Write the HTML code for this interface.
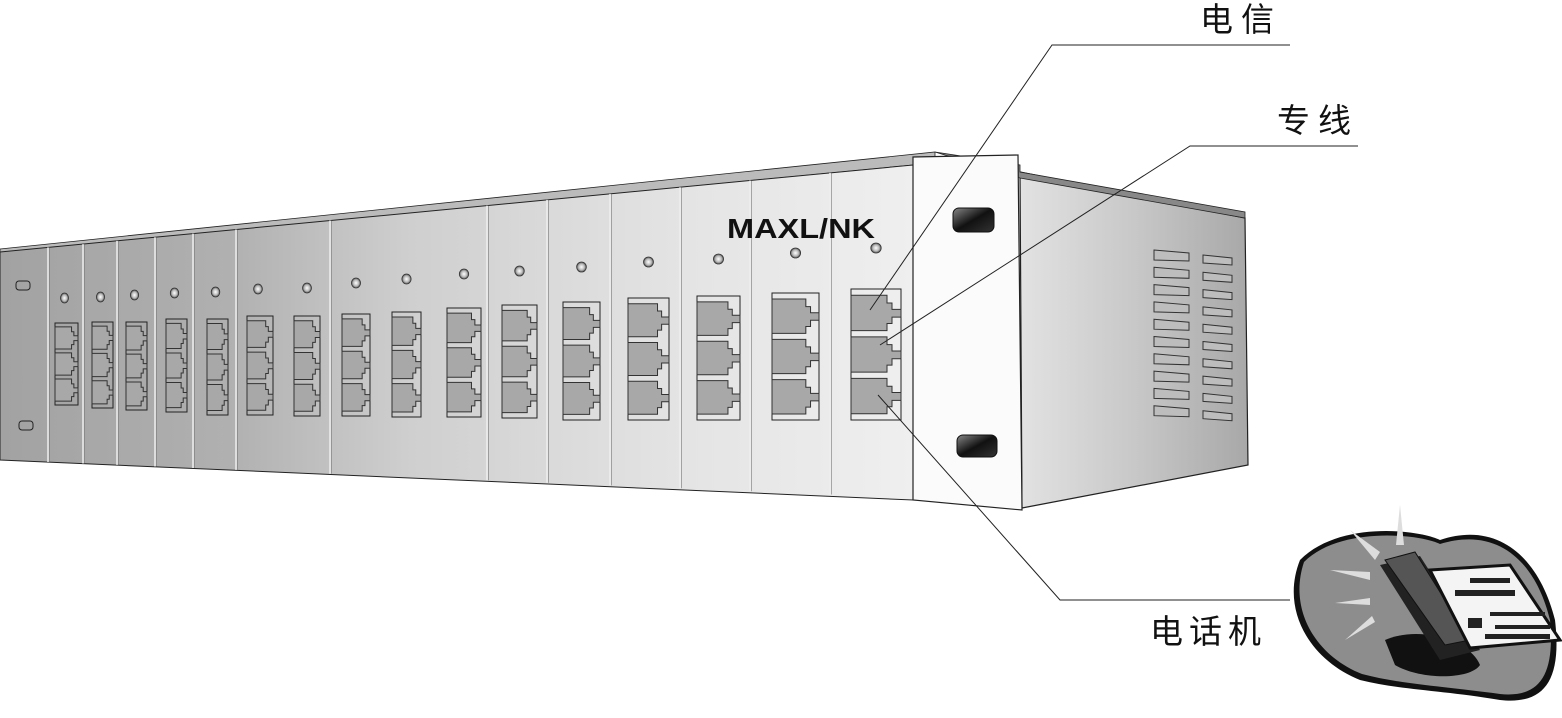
<!DOCTYPE html>
<html><head><meta charset="utf-8"><style>
html,body{margin:0;padding:0;background:#fff;width:1562px;height:718px;overflow:hidden}
svg{display:block}
text{font-family:"Liberation Sans","Noto Sans CJK SC",sans-serif}
</style></head><body>
<svg id="s" width="1562" height="718" viewBox="0 0 1562 718" xmlns="http://www.w3.org/2000/svg">
<defs>
<linearGradient id="fg" x1="0" x2="1" y1="0" y2="0">
<stop offset="0" stop-color="#a2a2a2"/><stop offset="0.25" stop-color="#b0b0b0"/><stop offset="0.45" stop-color="#cfcfcf"/><stop offset="0.75" stop-color="#e4e4e4"/><stop offset="1" stop-color="#efefef"/>
</linearGradient>
<linearGradient id="sg" x1="0" x2="1" y1="0" y2="0">
<stop offset="0" stop-color="#e2e2e2"/><stop offset="0.5" stop-color="#c8c8c8"/><stop offset="1" stop-color="#a8a8a8"/>
</linearGradient>
<linearGradient id="hg" x1="0" x2="1" y1="0" y2="1">
<stop offset="0" stop-color="#888"/><stop offset="0.5" stop-color="#111"/><stop offset="1" stop-color="#333"/>
</linearGradient>
<radialGradient id="led"><stop offset="0" stop-color="#fff"/><stop offset="0.6" stop-color="#bbb"/><stop offset="1" stop-color="#555"/></radialGradient>
</defs>
<polygon points="1020,172 1245,218 1248,465 1022,508" fill="url(#sg)" stroke="#222" stroke-width="1.2"/>
<polygon points="935,152 1020,165 1020,172 1245,212 1245,218 1020,178" fill="#888" stroke="#222" stroke-width="0.8"/>
<polygon points="0,249 935,152 935,160 913,165 0,253" fill="#bbb" stroke="#222" stroke-width="0.8"/>
<polygon points="0,252 913,165 913,500 0,460" fill="url(#fg)" stroke="#222" stroke-width="1"/>
<polygon points="913,157 1018,155 1022,510 913,500" fill="#fbfbfb" stroke="#222" stroke-width="1.2"/>
<rect x="953" y="208" width="41" height="24" rx="6" fill="url(#hg)" stroke="#111"/>
<rect x="957" y="435" width="40" height="22" rx="6" fill="url(#hg)" stroke="#111"/>
<rect x="16" y="281" width="14" height="9" rx="3" fill="none" stroke="#222"/>
<rect x="19" y="421" width="14" height="9" rx="3" fill="none" stroke="#222"/>
<g id="g"></g>
<text x="727" y="238" font-size="28" font-weight="bold" fill="#111" textLength="148" lengthAdjust="spacingAndGlyphs">MAXL/NK</text>
<g id="v" fill="#bdbdbd" stroke="#333" stroke-width="1"></g>
<g stroke="#222" stroke-width="1" fill="none">
<polyline points="1290,45 1052,45 870,310"/>
<polyline points="1358,146 1190,146 880,345"/>
<polyline points="1290,600 1060,600 878,395"/>
</g>
<text x="1200" y="31" font-size="33" letter-spacing="8" fill="#111">电信</text>
<text x="1277" y="132" font-size="33" letter-spacing="8" fill="#111">专线</text>
<text x="1150" y="643" font-size="33" letter-spacing="6" fill="#111">电话机</text>
<path d="M1300,560 C1340,520 1420,530 1440,540 C1500,520 1540,560 1555,620 C1562,680 1545,705 1500,700 C1440,690 1400,690 1360,680 C1310,660 1280,610 1300,560Z" fill="#111"/>
<path d="M1304,562 C1340,526 1420,534 1440,544 C1498,526 1536,562 1550,620 C1555,675 1540,698 1500,694 C1440,686 1400,684 1362,674 C1316,656 1288,610 1304,562Z" fill="#8d8d8d"/>
<g fill="#ddd"><polygon points="1400,505 1396,545 1404,545"/><polygon points="1350,530 1375,560 1380,552"/><polygon points="1330,570 1370,580 1370,572"/><polygon points="1335,603 1370,605 1370,598"/><polygon points="1345,640 1375,622 1372,616"/></g>
<path d="M1385,640 C1420,625 1470,640 1480,665 C1470,680 1420,680 1395,665Z" fill="#111"/>
<polygon points="1380,565 1420,556 1480,650 1440,660" fill="#222"/>
<polygon points="1385,560 1415,552 1470,640 1445,645" fill="#555" stroke="#111"/>
<polygon points="1430,570 1510,565 1560,640 1470,648" fill="#f4f4f4" stroke="#111" stroke-width="3"/>
<g fill="#222"><rect x="1470" y="578" width="40" height="5"/><rect x="1455" y="590" width="60" height="6"/><rect x="1468" y="618" width="14" height="10"/><rect x="1490" y="612" width="55" height="4"/><rect x="1495" y="625" width="55" height="4"/><rect x="1485" y="634" width="65" height="5"/></g>
</svg>
<script>
(function(){
var NS="http://www.w3.org/2000/svg",g=document.getElementById('g');
function el(t,a){var e=document.createElementNS(NS,t);for(var k in a)e.setAttribute(k,a[k]);g.appendChild(e);return e;}
function ty(x){return 252-0.0953*x}function by(x){return 460+0.0416*x}
[48,83,117,155,193,236,330,487,547,610,680,750,830].forEach(function(x){el('line',{x1:x,y1:ty(x),x2:x,y2:by(x),stroke:'#eee','stroke-width':1.5});el('line',{x1:x+1.5,y1:ty(x),x2:x+1.5,y2:by(x),stroke:'#777','stroke-width':0.6});});
var P=[[55,78,323,405],[92,113,322,408],[126,147,322,410],[166,187,319,412],[207,228,319,415],[247,273,316,415],[294,320,316,416],[342,370,314,416],[392,421,312,417],[447,481,308,417],[502,537,305,418],[563,600,302,420],[628,669,298,420],[697,740,296,420],[772,819,293,420],[851,901,289,420]];
var L=[298,297,295,293,292,289,288,283,279,274,271,267,262,259,253,248];
P.forEach(function(p,i){var x0=p[0],x1=p[1],y0=p[2],y1=p[3],w=x1-x0,h=(y1-y0);
el('rect',{x:x0,y:y0,width:w,height:h,fill:'none',stroke:'#222','stroke-width':1});
var jh=h*0.27,gap=(h-3*jh)/4;
for(var j=0;j<3;j++){var y=y0+gap+j*(jh+gap);var a=x0+w*0.72,b=x0+w*0.82;
el('polygon',{points:[x0,y,a,y,a,y+jh*0.22,b,y+jh*0.22,b,y+jh*0.4,x1,y+jh*0.4,x1,y+jh*0.62,b,y+jh*0.62,b,y+jh*0.8,a,y+jh*0.8,a,y+jh,x0,y+jh].join(' '),fill:'#a8a8a8',stroke:'#333','stroke-width':1});}
var cx=(x0+x1)/2+(i<6?-2:0);el('ellipse',{cx:cx,cy:L[i],rx:4+i*0.08,ry:5,fill:'url(#led)',stroke:'#333','stroke-width':0.8});});
var v=document.getElementById('v');
for(var r=0;r<10;r++){var y=252+r*17.3;
var a=document.createElementNS(NS,'polygon');a.setAttribute('points',[1154,y-2,1189,y+1,1189,y+9,1154,y+8].join(' '));v.appendChild(a);
var b=document.createElementNS(NS,'polygon');b.setAttribute('points',[1203,y+3,1232,y+6,1232,y+13,1203,y+11].join(' '));v.appendChild(b);}
})();
</script>
</body></html>
